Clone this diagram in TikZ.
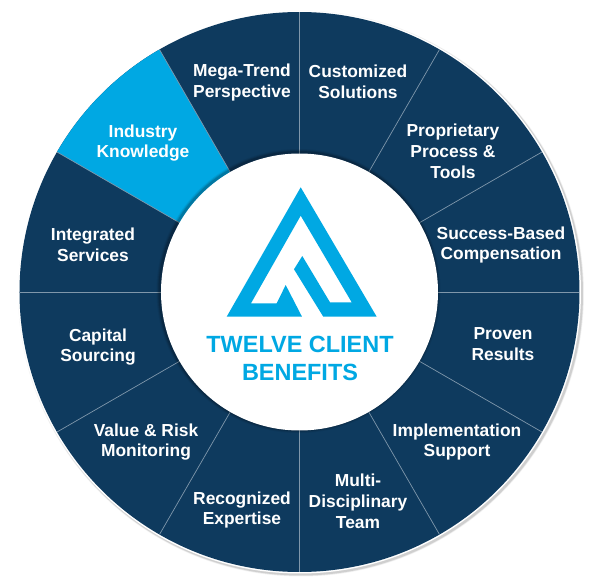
\documentclass[tikz,border=0pt]{standalone}
\usepackage{fontspec}
\setmainfont{Liberation Sans}
\definecolor{navy}{HTML}{0E3A5E}
\definecolor{skyblue}{HTML}{00A8E3}
\definecolor{spoke}{HTML}{7F97AB}
\tikzset{
  benefit/.style={text=white,align=center,font=\fontsize{9.9}{11.9}\selectfont\bfseries},
  headline/.style={text=skyblue,align=center,font=\fontsize{13.35}{15.9}\selectfont\bfseries}
}
\begin{document}
\begin{tikzpicture} [x=.02cm,y=.02cm]
\useasboundingbox (0,0) rectangle (600,583);
\coordinate (hub) at (299.5,291);
% wheel with soft edge
\foreach \r/\o in {283/.04,282.5/.06,282/.10} {
 \fill[black,opacity=\o] (301,289.5) circle[radius=\r];
}
\fill[white] (hub) circle[radius=281.5];
\fill[navy] (hub) circle[radius=280];
\fill[skyblue] (hub) ++(120:280) arc[start angle=120,end angle=150,radius=280]
  -- (hub) -- cycle;
\foreach \a in {0,30,...,330} {
 \draw[spoke, thin] (hub) --++(\a:280);
}
% hub
\foreach \r/\o in {142/.06,141/.10,140/.15} {
 \fill[black,opacity=\o] (298.5,292) circle[radius=\r];
}
\fill[white] (hub) circle[radius=138.5];
% mark
\fill[skyblue] (300.7,395.7) -- (376.7,266.3) -- (323.3,266.3) -- (294,313.7) -- (302.3,327)
  -- (330,280.7) -- (351.7,280.7) -- (300.7,367.3) -- (251,279.7) -- (276.7,279.7)
  -- (285.7,298) -- (302,266.3) -- (226.7,266.3) -- cycle;
\node[headline] (title) at (300,224.5) {TWELVE CLIENT\\BENEFITS};
% labels
\node[benefit] (mega)      at (242,500.5) {Mega-Trend\\Perspective};
\node[benefit] (custom)    at (358,501) {Customized\\Solutions};
\node[benefit] (tools)     at (453,432) {Proprietary\\Process \&\\Tools};
\node[benefit] (success)   at (501,338) {Success-Based\\Compensation};
\node[benefit] (proven)    at (503,239) {Proven\\Results};
\node[benefit] (implement) at (457,141) {Implementation\\Support};
\node[benefit] (multi)     at (358,82)  {Multi-\\Disciplinary\\Team};
\node[benefit] (expertise) at (242,73)  {Recognized\\Expertise};
\node[benefit] (value)     at (146,141) {Value \& Risk\\Monitoring};
\node[benefit] (capital)   at (98,236)  {Capital\\Sourcing};
\node[benefit] (services)  at (93,338)  {Integrated\\Services};
\node[benefit] (industry)  at (143,440) {Industry\\Knowledge};
\end{tikzpicture}
\end{document}
